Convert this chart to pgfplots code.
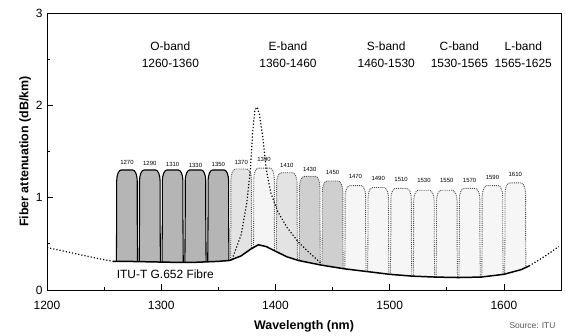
\documentclass[border=0pt]{standalone}
\usepackage{fontspec}
\setmainfont{Liberation Sans}
\usepackage{pgfplots}
\pgfplotsset{compat=1.18}
\usepackage{pgfplotstable}

% channel passband outline: offsets from centre; y = t*top + c
\pgfplotstableread{
dx t c
-9.4 0 0.10
-9.0 1 -0.50
-9.0 1 -0.12
-8.70 1 -0.074
-7.83 1 -0.035
-6.53 1 -0.009
-5.0 1 0
5.0 1 0
6.53 1 -0.009
7.83 1 -0.035
8.70 1 -0.074
9.0 1 -0.12
9.0 1 -0.50
9.4 0 0.10
}\shape

% attenuation of ITU-T G.652 fibre (solid part)
\pgfplotstableread{
x y
1258 0.31
1270 0.31
1290 0.305
1310 0.30
1330 0.30
1350 0.31
1360 0.32
1370 0.37
1378 0.44
1385 0.49
1392 0.47
1400 0.42
1410 0.36
1420 0.32
1440 0.27
1460 0.23
1480 0.20
1500 0.17
1520 0.15
1540 0.14
1560 0.135
1580 0.14
1600 0.17
1615 0.22
1622 0.26
}\atten

\pgfplotstableread{
x y
1200 0.46
1215 0.42
1230 0.38
1245 0.34
1258 0.31
}\attenleft

\pgfplotstableread{
x y
1622 0.26
1630 0.32
1640 0.40
1648 0.47
}\attenright

% water peak
\pgfplotstableread{
x y
1362 0.33
1370 0.60
1375 0.95
1378 1.30
1380 1.70
1382 1.95
1384 1.98
1386 1.90
1389 1.65
1392 1.30
1396 1.05
1402 0.85
1410 0.68
1420 0.52
1430 0.40
1440 0.29
}\peak

\newcommand\chan[4]{%
  \addplot[#3] table[x expr=\thisrow{dx}+#1, y expr=\thisrow{t}*#2+\thisrow{c}] {\shape};
  \node[font=\fontsize{6}{6}\selectfont, inner sep=0pt] at (axis cs:#1,#4) {#1};
}

\tikzset{
  dark/.style={fill=gray!58, draw=black, line width=1.1pt},
  lite/.style={fill=gray!22, draw=gray!60!black, densely dotted, line width=0.9pt},
  wite/.style={fill=gray!8, draw=gray!60!black, densely dotted, line width=0.9pt},
  med/.style={fill=gray!38, draw=gray!60!black, densely dotted, line width=0.9pt},
  vlite/.style={fill=gray!7, draw=gray!55!black, densely dotted, line width=0.9pt},
}

\begin{document}
\begin{tikzpicture}
\begin{axis}[
  scale only axis,
  width=514bp, height=277bp,
  xmin=1200, xmax=1650, ymin=0, ymax=3,
  xtick={1200,1300,1400,1500,1600},
  ytick={0,1,2,3},
  minor x tick num=1, minor y tick num=1,
  tick align=inside,
  xtick pos=left, ytick pos=left,
  major tick length=6bp, minor tick length=3bp,
  axis on top,
  axis line style={line width=0.8pt},
  tick style={line width=0.7pt, black},
  /pgf/number format/assume math mode=true,
  /pgf/number format/1000 sep={},
  ticklabel style={font=\fontsize{12}{13}\selectfont},
  xticklabel style={yshift=-8bp},
  yticklabel style={xshift=-1bp},
  xlabel={\bfseries Wavelength (nm)},
  ylabel={\bfseries Fiber attenuation (dB/km)},
  label style={font=\fontsize{12.5}{14}\selectfont},
  xlabel style={yshift=-4bp},
  ylabel style={yshift=-2bp},
]
\chan{1470}{1.13}{vlite}{1.23}
\chan{1490}{1.11}{vlite}{1.21}
\chan{1510}{1.10}{vlite}{1.20}
\chan{1530}{1.08}{vlite}{1.19}
\chan{1550}{1.08}{vlite}{1.19}
\chan{1570}{1.10}{vlite}{1.19}
\chan{1590}{1.13}{vlite}{1.22}
\chan{1610}{1.16}{vlite}{1.25}
\chan{1430}{1.23}{med}{1.31}
\chan{1450}{1.18}{med}{1.27}
\chan{1410}{1.27}{lite}{1.35}
\chan{1390}{1.32}{wite}{1.41}
\chan{1370}{1.31}{lite}{1.38}
\chan{1270}{1.30}{dark}{1.38}
\chan{1290}{1.30}{dark}{1.37}
\chan{1310}{1.30}{dark}{1.36}
\chan{1330}{1.30}{dark}{1.35}
\chan{1350}{1.30}{dark}{1.36}

% white area below the fibre curve
\addplot[fill=white, draw=none] table[x=x, y=y] {\atten} \closedcycle;
% water peak
\addplot[dotted, line width=1.2pt, black] table[x=x, y=y] {\peak};
% attenuation
\addplot[line width=1.5pt, black] table[x=x, y=y] {\atten};
\addplot[dotted, line width=1.2pt, black] table[x=x, y=y] {\attenleft};
\addplot[dotted, line width=1.2pt, black] table[x=x, y=y] {\attenright};

\node[anchor=west, font=\fontsize{12}{13}\selectfont] at (axis cs:1258,0.17) {ITU-T G.652 Fibre};

\node[align=center, font=\fontsize{12}{17}\selectfont] at (axis cs:1308,2.55) {O-band\\1260-1360};
\node[align=center, font=\fontsize{12}{17}\selectfont] at (axis cs:1411,2.55) {E-band\\1360-1460};
\node[align=center, font=\fontsize{12}{17}\selectfont] at (axis cs:1497,2.55) {S-band\\1460-1530};
\node[align=center, font=\fontsize{12}{17}\selectfont] at (axis cs:1561,2.55) {C-band\\1530-1565};
\node[align=center, font=\fontsize{12}{17}\selectfont] at (axis cs:1617,2.55) {L-band\\1565-1625};
\end{axis}
\node[anchor=east, font=\fontsize{8.5}{9}\selectfont, text=gray!70!black] at ([shift={(-2bp,-36bp)}]current axis.south east) {Source: ITU};
\path ([shift={(-47bp,-46bp)}]current axis.south west) ([shift={(5bp,13bp)}]current axis.north east);
\end{tikzpicture}
\end{document}
